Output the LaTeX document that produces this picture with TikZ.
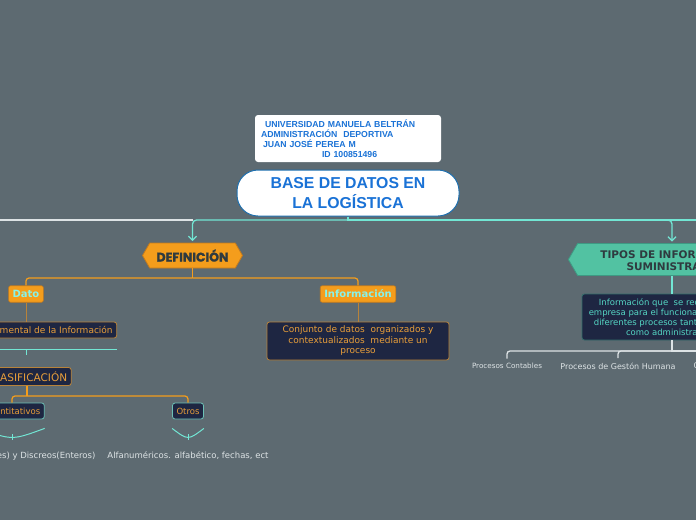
\documentclass[tikz,border=0pt]{standalone}
\usepackage{fontspec}
\setmainfont{DejaVu Sans}
\newfontfamily\arialfont{Liberation Sans}
\newfontfamily\heavyfont{Poppins}[BoldFeatures={FakeBold=1.5}]
\usetikzlibrary{arrows.meta,shapes.symbols}
\definecolor{fondo}{HTML}{5D6A71}
\definecolor{azul}{HTML}{1A72D6}
\definecolor{azulborde}{HTML}{1E6FAE}
\definecolor{turquesa}{HTML}{72E6D4}
\definecolor{blanco}{HTML}{DDE3E5}
\definecolor{naranja}{HTML}{F49D1C}
\definecolor{naranjaborde}{HTML}{C27A1E}
\definecolor{marino}{HTML}{1E2642}
\definecolor{marron}{HTML}{B8833A}
\definecolor{naranjatexto}{HTML}{E89E3A}
\definecolor{cian}{HTML}{86F3EA}
\definecolor{verde}{HTML}{52C2A2}
\definecolor{verdeborde}{HTML}{3E9A83}
\definecolor{verdetexto}{HTML}{55D6C4}
\definecolor{gristexto}{HTML}{2F3A3F}
\begin{document}
\begin{tikzpicture}[x=1pt, y=-1pt, line width=1.2pt,
  tealline/.style={draw=turquesa, line width=1.3pt},
  whiteline/.style={draw=blanco, line width=1.3pt},
  orangeline/.style={draw=naranja, line width=1.2pt},
  brownline/.style={draw=marron, line width=0.8pt},
  tip/.style={-{Straight Barb[length=4pt,width=8pt]}, shorten >=1.5pt},
  navybox/.style={fill=marino, draw=marron, line width=0.8pt, rounded corners=2.5pt,
    text=naranjatexto, align=center, inner xsep=4pt, inner ysep=2pt},
  orangebox/.style={fill=naranja, draw=naranjaborde, line width=0.6pt, rounded corners=2pt,
    text=cian, font=\bfseries\fontsize{10}{12}\selectfont, inner xsep=4pt, minimum height=16.5pt},
  leaf/.style={text=blanco, inner sep=1pt}]
  \fill[fondo] (0,0) rectangle (696,520);
  \useasboundingbox (0,0) rectangle (696,520);

  % centro
  \node[fill=white, rounded corners=3pt, minimum width=186pt, minimum height=47pt,
    text width=176pt, inner xsep=5pt, align=left, text=azul,
    font=\arialfont\bfseries\fontsize{8.7}{10}\selectfont] (autor) at (348,138.5)
    {\hspace*{5pt}UNIVERSIDAD MANUELA BELTRÁN\\
     \hspace*{1pt}ADMINISTRACIÓN\hspace{6pt}DEPORTIVA\\
     \hspace*{3pt}JUAN JOSÉ PEREA M\\
     \hspace*{62pt}ID 100851496};
  \node[fill=white, draw=azulborde, line width=1pt, rounded corners=21pt,
    minimum width=222pt, minimum height=46pt, align=center, text=azul,
    font=\arialfont\bfseries\fontsize{15.8}{20}\selectfont] (base) at (348,193)
    {BASE DE DATOS EN\\LA LOGÍSTICA};

  % ramas principales
  \node[shape=signal, signal to=west and east, signal pointer angle=120,
    fill=naranja, draw=naranjaborde, line width=0.8pt, minimum width=100pt,
    minimum height=25pt, inner sep=0pt, text=gristexto,
    font=\heavyfont\bfseries\fontsize{12.5}{13}\selectfont] (def) at (192.5,255.5) {DEFINICIÓN};
  \node[shape=signal, signal to=west, signal pointer angle=120,
    fill=verde, draw=verdeborde, line width=0.8pt, minimum width=198pt,
    minimum height=32pt, inner sep=0pt, align=center, text=gristexto,
    font=\bfseries\fontsize{10.5}{12}\selectfont] (tipos) at (672,259.5)
    {TIPOS DE INFORMACIÓN\\SUMINISTRADA};

  \coordinate (hub) at (348,220);
  \coordinate (izq) at (-4,220);
  \coordinate (der) at (702,220);
  \draw[whiteline] (def.north |- hub) -- (izq);
  \draw[tealline] (base.south) -- (hub) -- (der);
  \draw[tealline, rounded corners=4pt, tip] (hub) -| (def.north);
  \draw[tealline, rounded corners=4pt, tip] (hub) -| (tipos.north);

  % definicion
  \node[orangebox] (dato) at (26,294) {Dato};
  \node[orangebox] (infotit) at (358,294) {Información};
  \coordinate (hubdef) at (192.5,278);
  \draw[orangeline] (def.south) -- (hubdef);
  \draw[orangeline, rounded corners=3pt] (hubdef) -| (dato.north);
  \draw[orangeline, rounded corners=3pt] (hubdef) -| (infotit.north);

  \node[navybox, minimum height=16pt, font=\fontsize{9}{10.5}\selectfont] (unidad) at (26,330)
    {Unidad fundamental de la Información};
  \node[navybox, minimum width=182pt, minimum height=38pt, font=\fontsize{9}{10.5}\selectfont] (conjunto) at (358,341)
    {Conjunto de datos\ \ organizados y\\contextualizados\ \ mediante un\\proceso};
  \draw[brownline] (dato) -- (unidad);
  \draw[brownline] (infotit) -- (conjunto);

  \draw[tealline, line width=1pt] ([yshift=-11pt]unidad.south west) -- ([yshift=-11pt]unidad.south east);
  \draw[tealline, line width=1pt] ([yshift=-11pt]unidad.south) -- ([yshift=-17pt]unidad.south);

  \node[navybox, minimum height=18pt, font=\fontsize{10.5}{12}\selectfont] (clasif) at (27,376.5) {CLASIFICACIÓN};
  \node[navybox, draw=turquesa!70!fondo, minimum height=16pt, font=\fontsize{8.5}{10}\selectfont] (cuant) at (12,411) {Cuantitativos};
  \node[navybox, draw=turquesa!70!fondo, minimum height=16pt, font=\fontsize{8.5}{10}\selectfont] (otros) at (188,411) {Otros};
  \coordinate (hubclas) at (27,396);
  \draw[orangeline] (clasif.south) -- (hubclas);
  \draw[orangeline, rounded corners=3pt] (hubclas) -| (cuant.north);
  \draw[orangeline, rounded corners=3pt] (hubclas) -| (otros.north);

  \draw[tealline, line width=1pt] ([yshift=-9pt]cuant.south west) .. controls ([yshift=-21pt]cuant.south) .. ([yshift=-9pt]cuant.south east);
  \draw[tealline, line width=1pt] ([yshift=-15pt]cuant.south) -- ([yshift=-21pt]cuant.south);
  \draw[tealline, line width=1pt] ([yshift=-9pt]otros.south west) .. controls ([yshift=-21pt]otros.south) .. ([yshift=-9pt]otros.south east);
  \draw[tealline, line width=1pt] ([yshift=-15pt]otros.south) -- ([yshift=-21pt]otros.south);

  \node[leaf, font=\fontsize{8.5}{10}\selectfont] (continuos) at (14,456) {Continuos(Reales) y Discreos(Enteros)};
  \node[leaf, font=\fontsize{8.5}{10}\selectfont] (alfa) at (188,456) {Alfanuméricos. alfabético, fechas, ect};

  % tipos de informacion
  \node[navybox, draw=verdeborde!60!marino, text=verdetexto, minimum width=180pt,
    minimum height=46pt, font=\fontsize{8.5}{10}\selectfont] (requiere) at (672,317)
    {Información que\ \ se requiere en la\\empresa para el funcionamiento de los\\diferentes procesos tanto operativos\\como administrativos};
  \draw[tealline] (tipos.south) -- (requiere.north);

  \node[leaf, font=\fontsize{7.2}{9}\selectfont] (contables) at (507,366) {Procesos Contables};
  \node[leaf, font=\fontsize{8}{10}\selectfont] (humana) at (618,366) {Procesos de Gestón Humana};
  \node[leaf, font=\fontsize{8}{10}\selectfont, anchor=west] (compras) at (692,366) {Compras};
  \coordinate (hubproc) at (672,351);
  \draw[whiteline] (requiere.south) -- (hubproc) -- (compras.north |- hubproc);
  \draw[whiteline, rounded corners=3pt, shorten >=3pt] (hubproc) -| (contables.north);
  \draw[whiteline, rounded corners=3pt, shorten >=3pt] (hubproc) -| (humana.north);
\end{tikzpicture}
\end{document}
